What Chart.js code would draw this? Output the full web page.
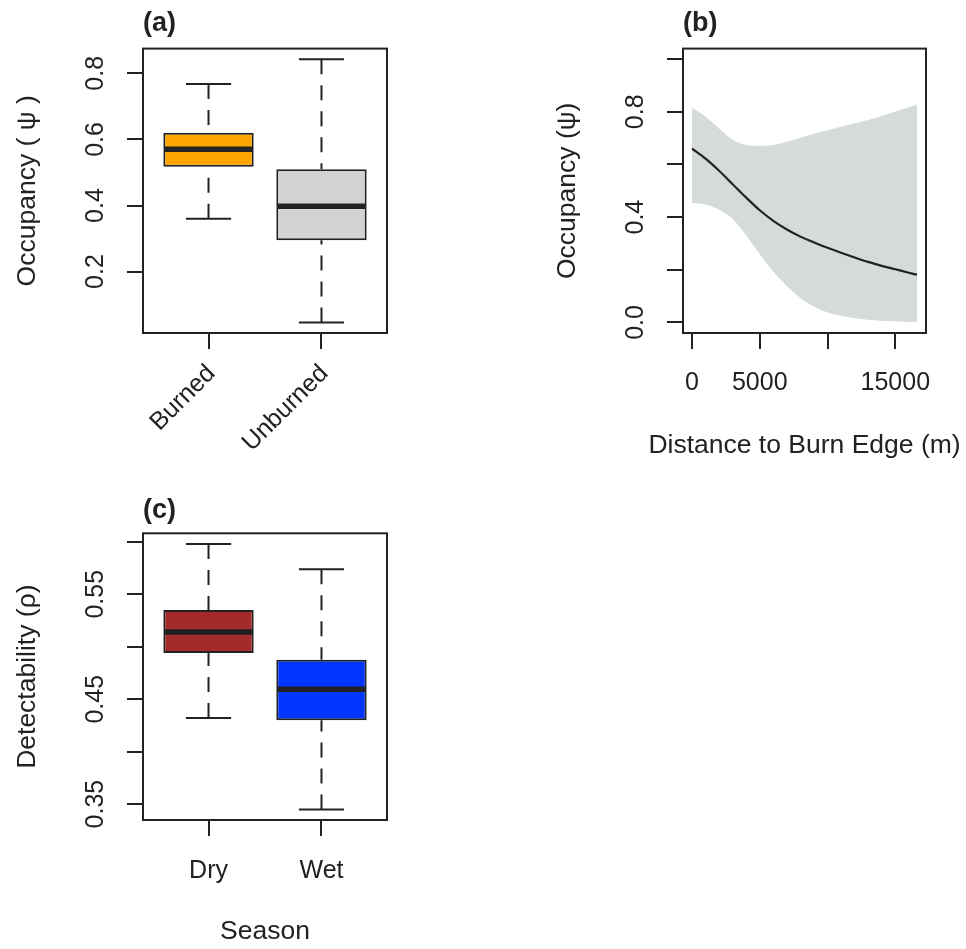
<!DOCTYPE html>
<html>
<head>
<meta charset="utf-8">
<script src="https://cdn.jsdelivr.net/npm/chart.js@4/dist/chart.umd.min.js"></script>
<style>
  body { margin: 0; background: #fff; }
  #wrap { position: relative; width: 966px; height: 949px; }
  #wrap canvas { position: absolute; }
</style>
</head>
<body>
<div id="wrap">
  <canvas id="panelA" width="480" height="475" style="left:0;top:0"></canvas>
  <canvas id="panelB" width="486" height="475" style="left:480px;top:0"></canvas>
  <canvas id="panelC" width="480" height="474" style="left:0;top:475px"></canvas>
</div>
<script>
// (a) occupancy by burn status: whisker ends, quartiles, median
const burnGroups = ['Burned', 'Unburned'];
const occLow = [0.360, 0.046];
const occQ1 = [0.517, 0.295];
const occMedian = [0.570, 0.398];
const occQ3 = [0.620, 0.510];
const occHigh = [0.768, 0.843];
const occTicks = [0.2, 0.4, 0.6, 0.8];
const occTickLabels = ['0.2', '0.4', '0.6', '0.8'];

// (b) fitted occupancy against distance to burn edge, with its band
const distance = [0, 1000, 2000, 3000, 4000, 5000, 6000, 7000, 8000, 9000,
  10000, 11000, 12000, 13000, 14000, 15000, 16000, 16600];
const occFit = [0.660, 0.622, 0.576, 0.525, 0.474, 0.426, 0.386, 0.353, 0.326, 0.304,
  0.284, 0.265, 0.247, 0.230, 0.215, 0.202, 0.189, 0.181];
const occUpper = [0.814, 0.780, 0.735, 0.692, 0.672, 0.669, 0.672, 0.684, 0.700, 0.715,
  0.728, 0.741, 0.754, 0.767, 0.782, 0.799, 0.815, 0.826];
const occLower = [0.456, 0.450, 0.430, 0.395, 0.333, 0.262, 0.195, 0.140, 0.095, 0.062,
  0.040, 0.027, 0.018, 0.012, 0.008, 0.006, 0.004, 0.004];
const occTicksB = [0, 0.2, 0.4, 0.6, 0.8, 1.0];
const occTickLabelsB = ['0.0', '', '0.4', '', '0.8', ''];
const distTicks = [0, 5000, 10000, 15000];
const distTickLabels = ['0', '5000', '', '15000'];

// (c) detectability by season
const seasons = ['Dry', 'Wet'];
const detLow = [0.432, 0.345];
const detQ1 = [0.494, 0.430];
const detMedian = [0.514, 0.4595];
const detQ3 = [0.535, 0.4876];
const detHigh = [0.598, 0.5738];
const detTicks = [0.35, 0.40, 0.45, 0.50, 0.55, 0.60];
const detTickLabels = ['0.35', '', '0.45', '', '0.55', ''];

const ink = '#222';
const family = "'Liberation Sans', Arial, sans-serif";
Chart.defaults.font.family = family;
Chart.defaults.font.size = 25;
Chart.defaults.color = ink;
Chart.defaults.animation = false;
Chart.defaults.plugins.legend.display = false;
Chart.defaults.plugins.tooltip.enabled = false;

// base-graphics style axis range: data range plus 4% each side
const pad4 = (lo, hi) => [lo - 0.04 * (hi - lo), hi + 0.04 * (hi - lo)];
const fixedTicks = values => s => { s.ticks = values.map(v => ({value: v})); };
const tickGrid = {drawOnChartArea: false, offset: false, tickLength: 16, lineWidth: 2, color: ink};

// box around the plotting region
const frame = {
  id: 'frame',
  afterDraw(chart) {
    const {ctx, chartArea: a} = chart;
    ctx.save();
    ctx.strokeStyle = ink;
    ctx.lineWidth = 2;
    ctx.strokeRect(a.left, a.top, a.right - a.left, a.bottom - a.top);
    ctx.restore();
  }
};

// x caption allowed to run wider than the plot (the axis title would squeeze it)
const xCaption = {
  id: 'xCaption',
  afterDraw(chart, args, o) {
    const x = chart.scales.x;
    const {ctx} = chart;
    ctx.save();
    ctx.font = `${o.size}px ${family}`;
    ctx.fillStyle = ink;
    ctx.textAlign = 'center';
    ctx.textBaseline = 'middle';
    ctx.fillText(o.text, (x.left + x.right) / 2, x.bottom - o.gap);
    ctx.restore();
  }
};

// dashed whiskers, staples and the thick median line on top of the boxes
const whiskers = {
  id: 'whiskers',
  afterDatasetsDraw(chart, args, o) {
    const {ctx} = chart;
    const y = chart.scales.y;
    const bars = chart.getDatasetMeta(0).data;
    ctx.save();
    ctx.strokeStyle = ink;
    o.median.forEach((m, i) => {
      const cx = bars[i].x, half = bars[i].width / 2;
      ctx.lineWidth = 2;
      ctx.setLineDash([15, 11]);
      ctx.beginPath();
      ctx.moveTo(cx, y.getPixelForValue(o.high[i]));
      ctx.lineTo(cx, y.getPixelForValue(o.q3[i]));
      ctx.moveTo(cx, y.getPixelForValue(o.low[i]));
      ctx.lineTo(cx, y.getPixelForValue(o.q1[i]));
      ctx.stroke();
      ctx.setLineDash([]);
      ctx.beginPath();
      for (const v of [o.high[i], o.low[i]]) {
        ctx.moveTo(cx - half / 2, y.getPixelForValue(v));
        ctx.lineTo(cx + half / 2, y.getPixelForValue(v));
      }
      ctx.stroke();
      ctx.lineWidth = 5.5;
      ctx.beginPath();
      ctx.moveTo(cx - half + 1, y.getPixelForValue(m));
      ctx.lineTo(cx + half - 1, y.getPixelForValue(m));
      ctx.stroke();
    });
    ctx.restore();
  }
};

function panelTitle(text, top, bottom) {
  return {
    display: true, text, align: 'start', fullSize: false,
    font: {size: 27, weight: 'bold'}, color: ink,
    padding: {top, bottom}
  };
}

function yAxis(range, ticks, labels, title, o) {
  return {
    type: 'linear', min: range[0], max: range[1],
    afterBuildTicks: fixedTicks(ticks),
    afterFit: s => { s.width = o.width; },
    grid: tickGrid,
    border: {display: false},
    ticks: {callback: (v, i) => labels[i], minRotation: 90, maxRotation: 90,
      crossAlign: 'center', padding: o.labelGap, autoSkip: false},
    title: {display: true, text: title, font: {size: 26.5}, padding: {top: o.titleGap, bottom: 0}}
  };
}

function boxPanel(id, p) {
  const pos = p.groups.map((g, i) => i + 1);
  const xRange = pad4(0.5, p.groups.length + 0.5);
  new Chart(document.getElementById(id), {
    type: 'bar',
    data: {
      datasets: [{
        data: pos.map((x, i) => ({x, y: [p.q1[i], p.q3[i]]})),
        backgroundColor: p.colors,
        borderColor: ink,
        borderWidth: 2,
        borderSkipped: false,
        barPercentage: 0.8,
        categoryPercentage: 1
      }]
    },
    options: {
      responsive: false,
      layout: {padding: p.padding},
      plugins: {
        title: panelTitle(p.title, 0, p.titleBottom),
        whiskers: {low: p.low, q1: p.q1, median: p.median, q3: p.q3, high: p.high}
      },
      scales: {
        x: {
          type: 'linear', offset: false,
          min: xRange[0], max: xRange[1],
          afterBuildTicks: fixedTicks(pos),
          afterFit: s => { s.height = p.xHeight; },
          grid: tickGrid,
          border: {display: false},
          ticks: {callback: (v, i) => p.groups[i], minRotation: p.rotation, maxRotation: p.rotation,
            padding: p.xLabelGap, labelOffset: p.xLabelShift, autoSkip: false},
          title: {display: !!p.xTitle, text: p.xTitle, font: {size: 26.5},
            padding: {top: 0, bottom: p.xTitleGap}}
        },
        y: yAxis(pad4(Math.min(...p.low), Math.max(...p.high)), p.ticks, p.tickLabels, p.yTitle,
          {width: 143, labelGap: p.yLabelGap, titleGap: 11.4})
      }
    },
    plugins: [frame, whiskers]
  });
}

boxPanel('panelA', {
  title: '(a)', groups: burnGroups,
  low: occLow, q1: occQ1, median: occMedian, q3: occQ3, high: occHigh,
  colors: ['#ffa500', '#d3d3d3'],
  ticks: occTicks, tickLabels: occTickLabels, yTitle: 'Occupancy ( \u03c8 )',
  padding: {top: 7.1, left: 0, right: 93, bottom: 0}, titleBottom: 9.1,
  xHeight: 142, rotation: 45, xLabelGap: 10, xLabelShift: 3,
  yLabelGap: 13.6
});

boxPanel('panelC', {
  title: '(c)', groups: seasons,
  low: detLow, q1: detQ1, median: detMedian, q3: detQ3, high: detHigh,
  colors: ['#a52a2a', '#0036ff'],
  ticks: detTicks, tickLabels: detTickLabels, yTitle: 'Detectability (\u03c1)',
  padding: {top: 19.6, left: 0, right: 93, bottom: 0}, titleBottom: 6.3,
  xHeight: 129, rotation: 0, xLabelGap: 20.5, xLabelShift: 0,
  xTitle: 'Season', xTitleGap: 1.4,
  yLabelGap: 6.7
});

// (b) fitted curve over a shaded band
const pts = vals => distance.map((x, i) => ({x, y: vals[i]}));
const band = '#d5dbdb';
const distRange = pad4(distance[0], distance[distance.length - 1]);
new Chart(document.getElementById('panelB'), {
  type: 'line',
  data: {
    datasets: [
      {data: pts(occFit), borderColor: ink, borderWidth: 2.2, pointRadius: 0, fill: false},
      {data: pts(occUpper), borderColor: band, borderWidth: 1, pointRadius: 0, backgroundColor: band, fill: '+1'},
      {data: pts(occLower), borderColor: band, borderWidth: 1, pointRadius: 0, fill: false}
    ]
  },
  options: {
    responsive: false,
    layout: {padding: {top: 7.1, left: 0, right: 40, bottom: 0}},
    elements: {line: {cubicInterpolationMode: 'monotone'}},
    plugins: {
      title: panelTitle('(b)', 0, 9.1),
      xCaption: {text: 'Distance to Burn Edge (m)', size: 26.5, gap: 29}
    },
    scales: {
      x: {
        type: 'linear', min: distRange[0], max: distRange[1],
        afterBuildTicks: fixedTicks(distTicks),
        afterFit: s => { s.height = 142; },
        grid: tickGrid,
        border: {display: false},
        ticks: {callback: (v, i) => distTickLabels[i], maxRotation: 0, padding: 19, autoSkip: false}
      },
      y: yAxis([-0.04, 1.04], occTicksB, occTickLabelsB, 'Occupancy (\u03c8)',
        {width: 203, labelGap: 13.6, titleGap: 72})
    }
  },
  plugins: [frame, xCaption]
});
</script>
</body>
</html>
